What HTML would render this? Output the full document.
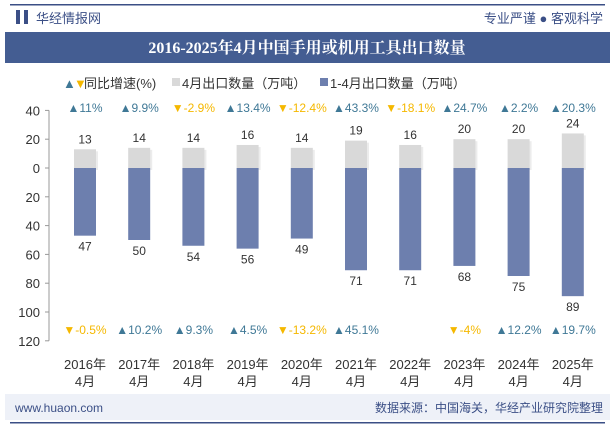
<!DOCTYPE html>
<html><head><meta charset="utf-8"><style>
body{margin:0;background:#fff;font-family:"Liberation Sans","Noto Sans CJK SC",sans-serif;}
#wrap{position:relative;width:615px;height:427px;overflow:hidden;background:#fff}
</style></head><body>
<div id="wrap">
<svg id="svg" width="615" height="427" xmlns="http://www.w3.org/2000/svg" font-family="Liberation Sans, Noto Sans CJK SC, sans-serif">
<rect x="10" y="4" width="595" height="1.5" fill="#3b4f86"/>
<rect x="16" y="10" width="4" height="14" fill="#3b4f86"/>
<rect x="24" y="10" width="4" height="14" fill="#3b4f86"/>
<text x="36" y="23" font-size="13" fill="#3b4f86">华经情报网</text>
<text x="603" y="23" font-size="13" fill="#3b4f86" text-anchor="end">专业严谨 ● 客观科学</text>
<rect x="5" y="32" width="605" height="31" fill="#445d92"/>
<text x="307" y="53" font-size="16" font-weight="bold" fill="#fff" text-anchor="middle" font-family="Liberation Serif, Noto Serif CJK SC, serif">2016-2025年4月中国手用或机用工具出口数量</text>
<g>
<text x="63" y="88" font-size="13" fill="#3f7896">▲</text>
<text x="74" y="88" font-size="13" fill="#f5b800">▼</text>
<text x="84" y="88" font-size="13" fill="#333">同比增速(%)</text>
<rect x="172" y="78" width="8" height="8" fill="#d9d9d9"/>
<text x="182" y="88" font-size="13" fill="#333">4月出口数量（万吨）</text>
<rect x="320" y="78" width="8" height="8" fill="#6d7fae"/>
<text x="330" y="88" font-size="13" fill="#333">1-4月出口数量（万吨）</text>
</g>
<g id="plot"></g>
<rect x="5" y="394" width="605" height="26" fill="#eef1f8"/>
<text x="15" y="412" font-size="12" fill="#3b4f86">www.huaon.com</text>
<text x="603" y="412" font-size="12" fill="#3b4f86" text-anchor="end">数据来源：中国海关，华经产业研究院整理</text>
<rect x="10" y="422" width="595" height="1.5" fill="#3b4f86"/>
</svg>
</div>
<script>
const categories=["2016年","2017年","2018年","2019年","2020年","2021年","2022年","2023年","2024年","2025年"];
const aprilValues=[13,14,14,16,14,19,16,20,20,24];
const cumValues=[47,50,54,56,49,71,71,68,75,89];
const aprilGrowth=[11,9.9,-2.9,13.4,-12.4,43.3,-18.1,24.7,2.2,20.3];
const cumGrowth=[-0.5,10.2,9.3,4.5,-13.2,45.1,null,-4,12.2,19.7];
const yTicks=[40,20,0,20,40,60,80,100,120];
const yTickVals=[40,20,0,-20,-40,-60,-80,-100,-120];
const NS="http://www.w3.org/2000/svg";
const g=document.getElementById('plot');
const zeroY=168, pxPer=1.44;
function yScale(v){return zeroY-v*pxPer;}
function xScale(i){return 85+i*54.2;}
function mk(tag,attrs,txt){const e=document.createElementNS(NS,tag);for(const k in attrs)e.setAttribute(k,attrs[k]);if(txt!==undefined)e.textContent=txt;g.appendChild(e);return e;}
let ax=mk('line',{x1:49,x2:49,y1:yScale(40),y2:yScale(-120),stroke:'#999'});


yTickVals.forEach((v,i)=>{
  let t=mk('line',{x1:45,x2:49,y1:yScale(v),y2:yScale(v),stroke:'#999'});
  
  
  let l=mk('text',{x:40,y:yScale(v)+5,'font-size':13,fill:'#333','text-anchor':'end'},String(yTicks[i]));
  
  
});
function fmt(v){return (v>0?'▲':'▼')+v+'%';}
categories.forEach((c,i)=>{
  const x=xScale(i), w=22;
  let s=mk('rect',{x:x-w/2+2,y:yScale(aprilValues[i])+2,width:w,height:aprilValues[i]*pxPer,fill:'#ececec'});
  
  
  let b=mk('rect',{x:x-w/2,y:yScale(aprilValues[i]),width:w,height:aprilValues[i]*pxPer,fill:'#d9d9d9'});
  
  
  let b2=mk('rect',{x:x-w/2,y:zeroY,width:w,height:cumValues[i]*pxPer,fill:'#6d7fae'});
  
  
  let l1=mk('text',{x:x,y:yScale(aprilValues[i])-6,'font-size':12,fill:'#333','text-anchor':'middle'},String(aprilValues[i]));
  
  
  let l2=mk('text',{x:x,y:yScale(-cumValues[i])+15,'font-size':12,fill:'#333','text-anchor':'middle'},String(cumValues[i]));
  
  
  let gr=mk('text',{x:x,y:112,'font-size':12,fill:aprilGrowth[i]>0?'#3f7896':'#f5b800','text-anchor':'middle'},fmt(aprilGrowth[i]));
  
  
  if(cumGrowth[i]!==null){
    let gc=mk('text',{x:x,y:334,'font-size':12,fill:cumGrowth[i]>0?'#3f7896':'#f5b800','text-anchor':'middle'},fmt(cumGrowth[i]));
    
    
  }
  let c1=mk('text',{x:x,y:369,'font-size':13,fill:'#333','text-anchor':'middle'},c);
  
  
  let c2=mk('text',{x:x,y:386,'font-size':13,fill:'#333','text-anchor':'middle'},'4月');
  
  
});
</script>
</body></html>
